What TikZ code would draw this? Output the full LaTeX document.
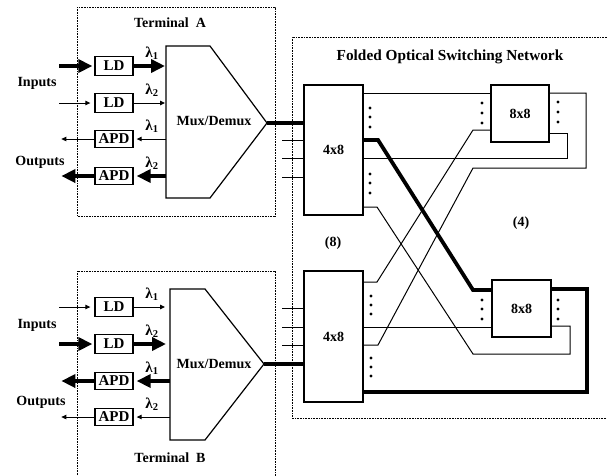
\documentclass[tikz,border=0pt]{standalone}
\usepackage{fontspec}
\setmainfont{Liberation Serif}
\usetikzlibrary{arrows.meta,calc}

\begin{document}
\begin{tikzpicture}[x=1pt,y=-1pt,
  txt/.style={font=\fontsize{14}{16}\selectfont\bfseries, inner sep=0pt},
  lam/.style={font=\fontsize{15}{17}\selectfont\bfseries, inner sep=0pt},
  frame/.style={line width=0.9pt, dash pattern=on 0.8pt off 0.8pt},
  thinline/.style={line width=1pt},
  fatline/.style={line width=3.8pt},
  thinarrow/.style={line width=1pt, -{Triangle[length=5pt,width=4.5pt]}},
  fatarrow/.style={line width=4.2pt, -{Triangle[length=14pt,width=13pt]}},
  sbox/.style={draw, line width=1.3pt, fill=white, minimum width=38pt, inner sep=0pt,
    font=\fontsize{15}{17}\selectfont\bfseries},
  ldbox/.style={sbox, minimum height=19pt},
  apdbox/.style={sbox, minimum height=17pt},
  swbox/.style={draw, line width=1.1pt, fill=white, inner sep=0pt,
    font=\fontsize{14}{16}\selectfont\bfseries},
  dot/.style={fill=black}
]
\useasboundingbox (0,0) rectangle (607,475);
\clip (0,0) rectangle (607,475);

% ---------- dotted enclosures ----------
\draw[frame] (77,7) rectangle (275,216);
\draw[frame] (77,480) -- (77,271) -- (275,271) -- (275,480);
\draw[frame] (612,37) -- (292,37) -- (292,418) -- (612,418);

\node[txt] at (170,23) {Terminal\ \ A};
\node[txt] at (170,458) {Terminal\ \ B};
\node[txt, font=\fontsize{15.3}{17}\selectfont\bfseries] at (450,57) {Folded\ Optical\ Switching\ Network};

% ---------- Terminal A ----------
\coordinate (mAnw) at (166,46);
\coordinate (mAne) at (210,46);
\coordinate (mAtip) at (267,123);
\coordinate (mAse) at (210,198);
\coordinate (mAsw) at (166,198);
\coordinate (mAw) at (166,123);
\draw[line width=1.2pt] (mAnw) -- (mAne) -- (mAtip) -- (mAse) -- (mAsw) -- cycle;
\node[txt] at (214,121) {Mux/Demux};

\node[ldbox]  (ldA1)  at (114,66)  {LD};
\node[ldbox]  (ldA2)  at (114,103) {LD};
\node[apdbox] (apdA1) at (114,139) {APD};
\node[apdbox] (apdA2) at (114,176) {APD};

\node[txt] at (37,83)  {Inputs};
\node[txt] at (40,162) {Outputs};

\draw[fatarrow, shorten >=2pt] ($(ldA1.west)+(-35,0)$) -- (ldA1.west);
\draw[thinarrow, shorten >=4pt] ($(ldA2.west)+(-35,0)$) -- (ldA2.west);
\draw[thinarrow] (apdA1.west) -- ++(-33,0);
\draw[fatarrow] (apdA2.west) -- ++(-33,0);

\draw[fatarrow, shorten >=1pt] (ldA1.east) -- (ldA1.east -| mAw);
\draw[thinarrow, shorten >=1pt] (ldA2.east) -- (ldA2.east -| mAw);
\draw[thinarrow, shorten >=3pt] (apdA1.east -| mAw) -- (apdA1.east);
\draw[fatarrow, shorten >=3pt] (apdA2.east -| mAw) -- (apdA2.east);

\node[lam] at (152,53)  {λ\textsubscript{1}};
\node[lam] at (152,90)  {λ\textsubscript{2}};
\node[lam] at (152,126) {λ\textsubscript{1}};
\node[lam] at (152,163) {λ\textsubscript{2}};

% ---------- Terminal B ----------
\coordinate (mBnw) at (170,289);
\coordinate (mBne) at (205,289);
\coordinate (mBtip) at (264,364);
\coordinate (mBse) at (205,440);
\coordinate (mBsw) at (170,440);
\coordinate (mBw) at (170,364);
\draw[line width=1.2pt] (mBnw) -- (mBne) -- (mBtip) -- (mBse) -- (mBsw) -- cycle;
\node[txt] at (214,364) {Mux/Demux};

\node[ldbox]  (ldB1)  at (114,307) {LD};
\node[ldbox]  (ldB2)  at (114,344) {LD};
\node[apdbox] (apdB1) at (114,381) {APD};
\node[apdbox] (apdB2) at (114,417) {APD};

\node[txt] at (37,325) {Inputs};
\node[txt] at (41,402) {Outputs};

\draw[thinarrow, shorten >=4pt] ($(ldB1.west)+(-35,0)$) -- (ldB1.west);
\draw[fatarrow, shorten >=2pt] ($(ldB2.west)+(-35,0)$) -- (ldB2.west);
\draw[fatarrow] (apdB1.west) -- ++(-33,0);
\draw[thinarrow] (apdB2.west) -- ++(-33,0);

\draw[thinarrow, shorten >=5pt] (ldB1.east) -- (ldB1.east -| mBw);
\draw[fatarrow, shorten >=4pt] (ldB2.east) -- (ldB2.east -| mBw);
\draw[fatarrow, shorten >=3pt] (apdB1.east -| mBw) -- (apdB1.east);
\draw[thinarrow, shorten >=3pt] (apdB2.east -| mBw) -- (apdB2.east);

\node[lam] at (152,294) {λ\textsubscript{1}};
\node[lam] at (152,331) {λ\textsubscript{2}};
\node[lam] at (152,368) {λ\textsubscript{1}};
\node[lam] at (152,404) {λ\textsubscript{2}};

% ---------- switching network ----------
\node[swbox, minimum width=59pt, minimum height=130pt] (ua) at (333.5,150) {4x8};
\node[swbox, minimum width=58pt, minimum height=57pt]  (ub) at (520,113.5) {8x8};
\node[swbox, minimum width=59pt, minimum height=131pt] (la) at (333.5,336.5) {4x8};
\node[swbox, minimum width=59pt, minimum height=57pt]  (lb) at (521.5,308.5) {8x8};

\node[txt] at (333,243) {(8)};
\node[txt] at (521,223) {(4)};

% terminal fibres into the 4x8 stages
\draw[fatline] (mAtip) -- (ua.west |- mAtip);
\draw[thinline] (ua.west |- 0,140) -- ++(-21,0);
\draw[thinline] (ua.west |- 0,158) -- ++(-21,0);
\draw[thinline] (ua.west |- 0,177) -- ++(-21,0);

\draw[thinline] (la.west |- 0,308) -- ++(-21,0);
\draw[thinline] (la.west |- 0,327) -- ++(-21,0);
\draw[thinline] (la.west |- 0,345) -- ++(-21,0);
\draw[fatline] (mBtip) -- (la.west |- mBtip);

% interstage links
\draw[thinline] (ua.east |- 0,93) -- (ub.west |- 0,93);
\draw[thinline] (ub.east |- 0,93) -- (586,93) -- (586,168) -- (473,168) -- (378,345) -- (la.east |- 0,345);
\draw[thinline] (ub.west |- 0,130) -- (473,130) -- (377,282) -- (la.east |- 0,282);
\draw[thinline] (ub.east |- 0,133) -- (567,133) -- (567,158) -- (ua.east |- 0,158);
\draw[thinline] (ua.east |- 0,207) -- (377,207) -- (473,354) -- (570,354) -- (570,326) -- (lb.east |- 0,326);
\draw[thinline] (la.east |- 0,327) -- (lb.west |- 0,327);
\draw[fatline] (ua.east |- 0,140) -- (378,140) -- (473,290) -- (lb.west |- 0,290);
\draw[fatline] (la.east |- 0,392) -- (587,392) -- (587,289) -- (lb.east |- 0,289);

% port ellipses
\foreach \x/\y in {370/108, 370/117, 370/127, 370/174, 370/183, 370/193,
                   482/103, 482/113, 482/123, 558/102, 558/112, 558/122,
                   371/296, 371/305, 371/314, 371/358, 371/367, 371/376,
                   482/300, 482/309, 482/319, 558/300, 558/309, 558/319}
  \fill[dot] (\x,\y) circle (1.6pt);
\end{tikzpicture}
\end{document}
